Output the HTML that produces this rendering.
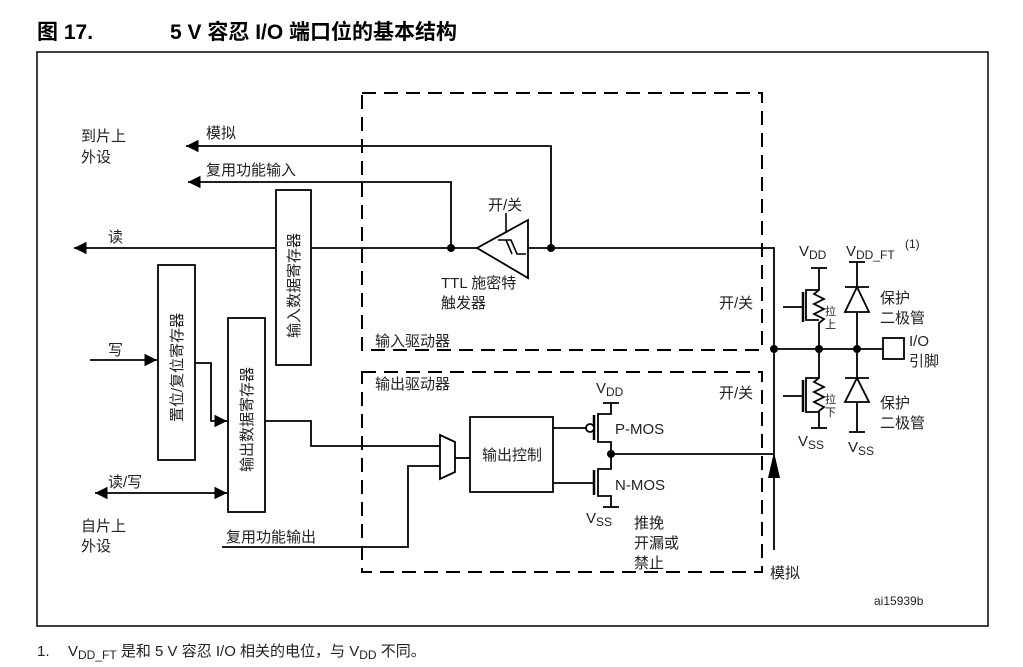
<!DOCTYPE html>
<html><head><meta charset="utf-8"><style>
html,body{margin:0;padding:0;background:#fff;}
svg{display:block;}
text{font-family:"Liberation Sans","Noto Sans CJK SC",sans-serif;fill:#222;}
.c{font-size:15px;}
</style></head><body>
<svg width="1023" height="667" viewBox="0 0 1023 667" xmlns="http://www.w3.org/2000/svg">
<defs>
<marker id="a" viewBox="0 0 10 10" refX="10" refY="5" markerWidth="7" markerHeight="7" orient="auto-start-reverse"><path d="M0,0L10,5L0,10z" fill="#000"/></marker>
</defs>
<text x="37" y="39" style="font-size:21px;font-weight:bold;fill:#000">图 17.</text>
<text x="170" y="39" style="font-size:21px;font-weight:bold;fill:#000">5 V 容忍 I/O 端口位的基本结构</text>
<rect x="37" y="52" width="951" height="574" fill="none" stroke="#000" stroke-width="1.5"/>
<g fill="none" stroke="#000" stroke-width="2" stroke-dasharray="14,8">
<rect x="362" y="93" width="400" height="257"/>
<rect x="362" y="372" width="400" height="200"/>
</g>
<g fill="none" stroke="#000" stroke-width="1.8">
<polyline points="551,248 551,146 186,146" marker-end="url(#a)"/>
<polyline points="451,248 451,182 188,182" marker-end="url(#a)"/>
<line x1="477" y1="248" x2="74" y2="248" marker-end="url(#a)"/>
<polyline points="528,248 774,248 774,550"/>
<line x1="774" y1="349" x2="883" y2="349"/>
<rect x="883" y="338" width="21" height="21"/>
<line x1="90" y1="360" x2="157" y2="360" marker-end="url(#a)"/>
<polyline points="195,363 211,363 211,421 227,421" marker-end="url(#a)"/>
<line x1="95" y1="493" x2="227" y2="493" marker-start="url(#a)" marker-end="url(#a)"/>
<polyline points="265,421 311,421 311,446 440,446"/>
<polyline points="222,547 408,547 408,466 440,466"/>
<line x1="455" y1="458" x2="470" y2="458"/>
<line x1="553" y1="428" x2="586" y2="428"/>
<line x1="553" y1="483" x2="594" y2="483"/>
<line x1="611" y1="454" x2="774" y2="454"/>
<line x1="594" y1="415" x2="594" y2="440" stroke-width="2.5"/>
<polyline points="611,403 611,414 598,414 598,442 611,442 611,454"/>
<line x1="603" y1="403" x2="619" y2="403"/>
<line x1="594" y1="470" x2="594" y2="495" stroke-width="2.5"/>
<polyline points="611,454 611,469 598,469 598,496 611,496 611,507"/>
<line x1="603" y1="507" x2="619" y2="507"/>
<line x1="811" y1="268" x2="827" y2="268"/>
<polyline points="819,268 819,290 814,294 824,299 814,304 824,309 814,314 824,319 819,323 819,349"/>
<polyline points="819,290 806,290 806,320 819,320"/>
<line x1="783" y1="307" x2="803" y2="307"/>
<line x1="803" y1="292" x2="803" y2="322" stroke-width="2.5"/>
<polyline points="819,349 819,378 814,382 824,387 814,392 824,397 814,402 824,407 819,411 819,428"/>
<polyline points="819,378 806,378 806,412 819,412"/>
<line x1="783" y1="396" x2="803" y2="396"/>
<line x1="803" y1="380" x2="803" y2="412" stroke-width="2.5"/>
<line x1="811" y1="428" x2="827" y2="428"/>
<line x1="849" y1="262" x2="865" y2="262"/>
<line x1="857" y1="262" x2="857" y2="432"/>
<line x1="845" y1="287" x2="869" y2="287"/>
<line x1="845" y1="378" x2="869" y2="378"/>
<line x1="849" y1="432" x2="865" y2="432"/>
</g>
<polygon points="774,452 768,478 780,478" fill="#000"/>
<g fill="#fff" stroke="#000" stroke-width="1.8">
<polygon points="845,312 869,312 857,287"/>
<polygon points="845,402 869,402 857,378"/>
<circle cx="590" cy="428" r="4"/>
<rect x="276" y="190" width="35" height="175"/>
<rect x="158" y="265" width="37" height="195"/>
<rect x="228" y="318" width="37" height="194"/>
<rect x="470" y="417" width="83" height="75"/>
<polygon points="440,435 455,442 455,472 440,479"/>
<polygon points="477,248 528,220 528,278"/>
</g>
<g fill="none" stroke="#000" stroke-width="1.6">
<line x1="506" y1="213" x2="506" y2="233"/>
<polyline points="498,240 511,240 517,254 526,254"/>
<polyline points="506,240 512,254"/>
</g>
<g fill="#000">
<circle cx="451" cy="248" r="4"/><circle cx="551" cy="248" r="4"/>
<circle cx="774" cy="349" r="4"/><circle cx="819" cy="349" r="4"/><circle cx="857" cy="349" r="4"/>
<circle cx="611" cy="454" r="4"/>
</g>
<g class="c">
<text x="81" y="141">到片上</text><text x="81" y="162">外设</text>
<text x="206" y="138">模拟</text>
<text x="206" y="175">复用功能输入</text>
<text x="108" y="242">读</text>
<text x="488" y="210">开/关</text>
<text x="441" y="288">TTL 施密特</text><text x="441" y="308">触发器</text>
<text x="375" y="346">输入驱动器</text>
<text x="375" y="389">输出驱动器</text>
<text x="108" y="355">写</text>
<text x="108" y="487">读/写</text>
<text x="81" y="531">自片上</text><text x="81" y="551">外设</text>
<text x="226" y="542">复用功能输出</text>
<text x="482" y="460">输出控制</text>
<text x="615" y="434">P-MOS</text>
<text x="615" y="490">N-MOS</text>
<text x="634" y="528">推挽</text><text x="634" y="548">开漏或</text><text x="634" y="568">禁止</text>
<text x="719" y="308">开/关</text>
<text x="719" y="398">开/关</text>
<text x="770" y="578">模拟</text>
<text x="880" y="303">保护</text><text x="880" y="323">二极管</text>
<text x="880" y="408">保护</text><text x="880" y="428">二极管</text>
<text x="909" y="346">I/O</text><text x="909" y="366">引脚</text>
<text x="596" y="393">V<tspan font-size="12" dy="3">DD</tspan></text>
<text x="586" y="523">V<tspan font-size="12" dy="3">SS</tspan></text>
<text x="799" y="256">V<tspan font-size="12" dy="3">DD</tspan></text>
<text x="846" y="256">V<tspan font-size="12" dy="3">DD_FT</tspan></text>
<text x="905" y="248" font-size="12">(1)</text>
<text x="798" y="446">V<tspan font-size="12" dy="3">SS</tspan></text>
<text x="848" y="452">V<tspan font-size="12" dy="3">SS</tspan></text>
<text x="874" y="605" font-size="12">ai15939b</text>
<text x="37" y="656">1.</text>
<text x="68" y="656">V<tspan font-size="12" dy="3">DD_FT</tspan><tspan dy="-3"> 是和 5 V 容忍 I/O 相关的电位，与 V</tspan><tspan font-size="12" dy="3">DD</tspan><tspan dy="-3"> 不同。</tspan></text>
</g>
<g font-size="11">
<text x="825" y="315">拉</text><text x="825" y="328">上</text>
<text x="825" y="403">拉</text><text x="825" y="416">下</text>
</g>
<g class="c">
<text transform="translate(299,338) rotate(-90)">输入数据寄存器</text>
<text transform="translate(182,422) rotate(-90)">置位/复位寄存器</text>
<text transform="translate(252,472) rotate(-90)">输出数据寄存器</text>
</g>
</svg>
</body></html>
